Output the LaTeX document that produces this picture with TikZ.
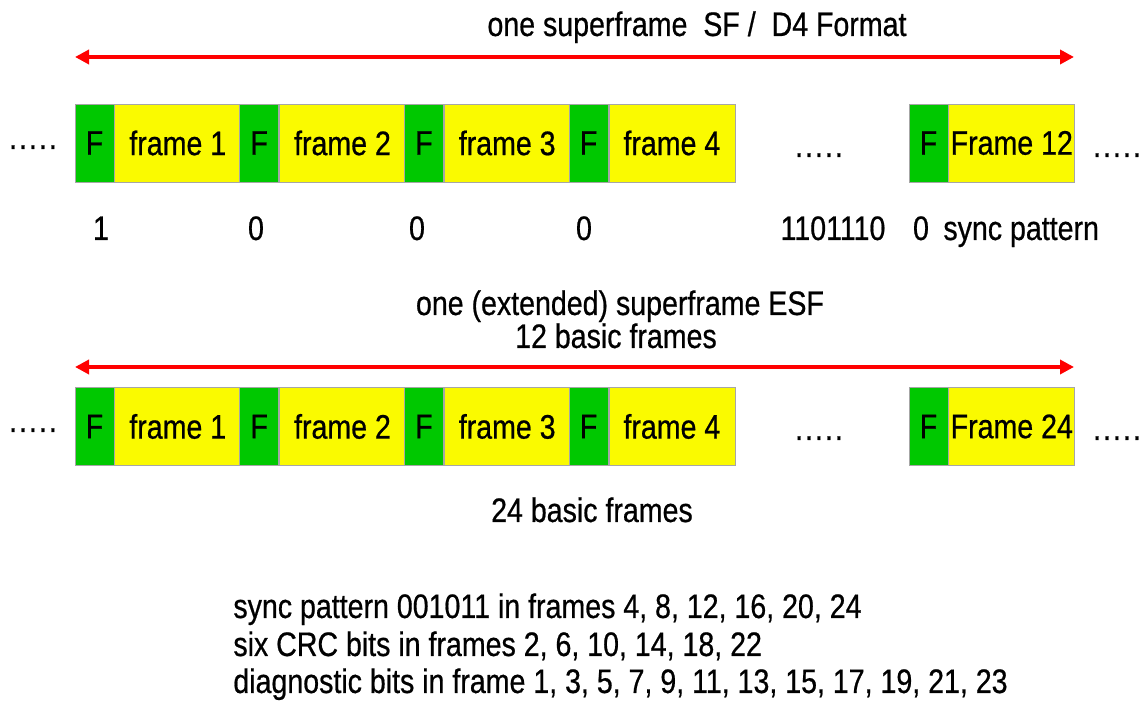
\documentclass[tikz,border=0pt]{standalone}
\usepackage{fontspec}
\setmainfont[FakeStretch=0.84, FakeBold=0.6]{Liberation Sans}
\usetikzlibrary{arrows.meta}
\definecolor{fgreen}{RGB}{0,200,0}
\definecolor{fyellow}{RGB}{250,250,0}
\newcommand{\fdots}{.\kern1pt.\kern1pt.\kern1pt.\kern1pt.}
\tikzset{
  fbit/.style={draw=gray!70, fill=fgreen, minimum width=19.5pt, minimum height=39pt, inner sep=0pt},
  fbody/.style={draw=gray!70, fill=fyellow, minimum width=63pt, minimum height=39pt, inner sep=0pt, anchor=west},
  span/.style={red, line width=2pt, {Triangle[length=7pt,width=7pt]}-{Triangle[length=7pt,width=7pt]}},
  lbl/.style={inner sep=0pt, anchor=base}
}
\begin{document}
\begin{tikzpicture}[x=0.5pt, y=-0.5pt, font=\fontsize{17}{20}\selectfont]
\useasboundingbox (0,0) rectangle (1148,704);
% superframe SF / D4
\node[lbl] (sftitle) at (697,36) {one superframe~ SF /~ D4 Format};
\coordinate (sfL) at (75,57);
\coordinate (sfR) at (1074,57);
\draw[span] (sfL) -- (sfR);
\foreach \i in {1,...,4}{
  \node[fbit] (sfF\i) at ({94.5+164.7*(\i-1)},143) {F};
  \node[fbody] (sffr\i) at (sfF\i.east) {frame \i};
}
\node[fbit] (sfF12) at (928.5,143) {F};
\node[fbody] (sffr12) at (sfF12.east) {Frame 12};
\node[lbl] (sfdotsL) at (33,149) {\fdots};
\node[lbl] (sfdotsM) at (819,157) {\fdots};
\node[lbl] (sfdotsR) at (1117,157) {\fdots};
\foreach \x/\b [count=\k] in {101/1, 256/0, 417/0, 584/0, 833/1101110, 921/0}
  \node[lbl] (sfbit\k) at (\x,240) {\b};
\node[lbl, anchor=base west] (sfsync) at (943,240) {sync pattern};
% extended superframe ESF
\node[lbl] (esftitle) at (620,315) {one (extended) superframe ESF};
\node[lbl] (esfsub) at (616,348) {12 basic frames};
\coordinate (esfL) at (75,367);
\coordinate (esfR) at (1074,367);
\draw[span] (esfL) -- (esfR);
\foreach \i in {1,...,4}{
  \node[fbit] (esfF\i) at ({94.5+164.7*(\i-1)},426.5) {F};
  \node[fbody] (esffr\i) at (esfF\i.east) {frame \i};
}
\node[fbit] (esfF24) at (928.5,426.5) {F};
\node[fbody] (esffr24) at (esfF24.east) {Frame 24};
\node[lbl] (esfdotsL) at (33,432) {\fdots};
\node[lbl] (esfdotsM) at (819,440) {\fdots};
\node[lbl] (esfdotsR) at (1117,440) {\fdots};
\node[lbl] (esfbasic) at (592,522) {24 basic frames};
% ESF bit usage
\node[lbl, anchor=base west] (usesync) at (233,618) {sync pattern 001011 in frames 4, 8, 12, 16, 20, 24};
\node[lbl, anchor=base west] (usecrc) at (233,656) {six CRC bits in frames 2, 6, 10, 14, 18, 22};
\node[lbl, anchor=base west] (usediag) at (233,693) {diagnostic bits in frame 1, 3, 5, 7, 9, 11, 13, 15, 17, 19, 21, 23};
\end{tikzpicture}
\end{document}
